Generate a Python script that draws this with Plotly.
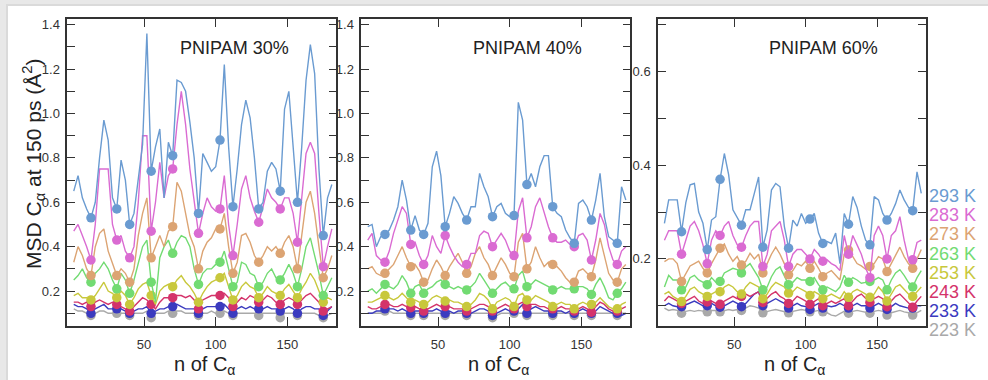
import plotly.graph_objects as go

# Residue grid (every third C-alpha) and the residues highlighted with dots
RESIDUES = list(range(1, 182, 3))
MARKED = [13, 31, 40, 55, 70, 88, 103, 112, 130, 145, 157, 175]

TEMPS = ["293 K", "283 K", "273 K", "263 K", "253 K", "243 K", "233 K", "223 K"]
COLORS = ["#6A9BD1", "#DA6BD2", "#DCA473", "#72DB72", "#C8C83C", "#D4336A", "#3B3BBF", "#A9A9A9"]
PANEL_TITLES = ["PNIPAM 30%", "PNIPAM 40%", "PNIPAM 60%"]

# ---- PNIPAM 30% ----
p30_293 = [0.65, 0.72, 0.62, 0.57, 0.53, 0.60, 0.80, 0.97, 0.88, 0.62,
           0.57, 0.79, 0.70, 0.50, 0.55, 0.70, 0.86, 1.36, 0.74, 0.85,
           0.93, 0.62, 0.87, 0.81, 1.15, 1.14, 1.10, 0.96, 0.80, 0.55,
           0.82, 0.78, 0.74, 0.76, 0.88, 1.22, 0.85, 0.58, 0.75, 0.95,
           1.06, 0.98, 0.80, 0.57, 0.60, 0.74, 0.78, 0.75, 0.65, 1.02,
           1.10, 0.85, 0.60, 0.85, 1.15, 1.31, 1.18, 0.75, 0.45, 0.62,
           0.68]
p30_283 = [0.47, 0.50, 0.45, 0.40, 0.34, 0.50, 0.75, 0.75, 0.75, 0.50,
           0.43, 0.45, 0.38, 0.35, 0.40, 0.60, 0.90, 0.90, 0.47, 0.60,
           0.78, 0.62, 0.72, 0.75, 0.95, 1.10, 0.95, 0.75, 0.60, 0.46,
           0.55, 0.62, 0.58, 0.56, 0.57, 0.72, 0.50, 0.36, 0.50, 0.66,
           0.72, 0.62, 0.56, 0.51, 0.58, 0.66, 0.62, 0.60, 0.57, 0.62,
           0.62, 0.55, 0.42, 0.62, 0.82, 0.87, 0.82, 0.55, 0.31, 0.40,
           0.48]
p30_273 = [0.33, 0.40, 0.36, 0.30, 0.27, 0.40, 0.46, 0.48, 0.38, 0.32,
           0.27, 0.30, 0.28, 0.24, 0.30, 0.45, 0.55, 0.62, 0.35, 0.40,
           0.45, 0.40, 0.47, 0.49, 0.69, 0.65, 0.55, 0.45, 0.40, 0.30,
           0.38, 0.42, 0.44, 0.48, 0.48, 0.55, 0.40, 0.28, 0.33, 0.45,
           0.46, 0.42, 0.36, 0.33, 0.36, 0.40, 0.38, 0.40, 0.37, 0.42,
           0.45, 0.40, 0.30, 0.45, 0.60, 0.65, 0.55, 0.40, 0.26, 0.30,
           0.36]
p30_263 = [0.25, 0.27, 0.30, 0.26, 0.24, 0.28, 0.30, 0.33, 0.30, 0.25,
           0.21, 0.28, 0.25, 0.19, 0.25, 0.32, 0.40, 0.43, 0.24, 0.15,
           0.35, 0.40, 0.43, 0.37, 0.42, 0.45, 0.44, 0.40, 0.30, 0.23,
           0.28, 0.30, 0.30, 0.32, 0.33, 0.38, 0.30, 0.22, 0.24, 0.33,
           0.32, 0.28, 0.27, 0.22, 0.24, 0.28, 0.30, 0.26, 0.25, 0.28,
           0.32, 0.28, 0.22, 0.30, 0.40, 0.44, 0.36, 0.28, 0.18, 0.22,
           0.26]
p30_253 = [0.18, 0.19, 0.17, 0.17, 0.16, 0.18, 0.21, 0.24, 0.20, 0.19,
           0.17, 0.20, 0.18, 0.14, 0.17, 0.21, 0.23, 0.24, 0.18, 0.14,
           0.20, 0.22, 0.23, 0.22, 0.25, 0.27, 0.24, 0.22, 0.19, 0.15,
           0.19, 0.22, 0.24, 0.25, 0.26, 0.28, 0.22, 0.16, 0.18, 0.22,
           0.24, 0.22, 0.21, 0.17, 0.19, 0.22, 0.20, 0.19, 0.18, 0.21,
           0.23, 0.20, 0.17, 0.21, 0.24, 0.28, 0.25, 0.20, 0.15, 0.17,
           0.16]
p30_243 = [0.15, 0.15, 0.14, 0.15, 0.13, 0.15, 0.16, 0.15, 0.14, 0.15,
           0.14, 0.13, 0.12, 0.11, 0.13, 0.15, 0.17, 0.16, 0.14, 0.12,
           0.15, 0.17, 0.17, 0.17, 0.18, 0.18, 0.17, 0.18, 0.16, 0.12,
           0.16, 0.17, 0.18, 0.18, 0.18, 0.19, 0.17, 0.13, 0.15, 0.17,
           0.16, 0.18, 0.17, 0.15, 0.16, 0.18, 0.17, 0.15, 0.14, 0.16,
           0.17, 0.16, 0.14, 0.16, 0.18, 0.19, 0.17, 0.15, 0.11, 0.12,
           0.13]
p30_233 = [0.14, 0.13, 0.13, 0.12, 0.10, 0.12, 0.13, 0.14, 0.12, 0.12,
           0.12, 0.12, 0.11, 0.10, 0.11, 0.12, 0.12, 0.13, 0.10, 0.11,
           0.12, 0.12, 0.13, 0.13, 0.14, 0.13, 0.12, 0.12, 0.12, 0.10,
           0.12, 0.13, 0.13, 0.13, 0.13, 0.14, 0.12, 0.10, 0.12, 0.13,
           0.12, 0.13, 0.12, 0.12, 0.12, 0.13, 0.12, 0.12, 0.11, 0.12,
           0.13, 0.12, 0.10, 0.12, 0.13, 0.13, 0.12, 0.12, 0.09, 0.11,
           0.13]
p30_223 = [0.12, 0.11, 0.11, 0.10, 0.09, 0.10, 0.11, 0.11, 0.10, 0.10,
           0.10, 0.10, 0.10, 0.09, 0.10, 0.10, 0.10, 0.11, 0.08, 0.10,
           0.10, 0.10, 0.11, 0.10, 0.11, 0.11, 0.10, 0.10, 0.10, 0.09,
           0.10, 0.10, 0.11, 0.10, 0.10, 0.11, 0.10, 0.09, 0.10, 0.10,
           0.10, 0.10, 0.10, 0.09, 0.10, 0.10, 0.10, 0.10, 0.08, 0.10,
           0.10, 0.10, 0.09, 0.10, 0.10, 0.10, 0.10, 0.09, 0.08, 0.09,
           0.10]

# ---- PNIPAM 40% ----
p40_293 = [0.49, 0.50, 0.40, 0.445, 0.455, 0.475, 0.52, 0.58, 0.70, 0.61,
           0.475, 0.54, 0.475, 0.455, 0.505, 0.76, 0.83, 0.72, 0.49, 0.55,
           0.625, 0.595, 0.55, 0.52, 0.58, 0.58, 0.73, 0.67, 0.625, 0.535,
           0.58, 0.595, 0.55, 0.535, 0.54, 1.05, 0.97, 0.68, 0.73, 0.67,
           0.76, 0.81, 0.81, 0.58, 0.55, 0.535, 0.475, 0.44, 0.415, 0.595,
           0.61, 0.58, 0.52, 0.61, 0.73, 0.535, 0.445, 0.43, 0.415, 0.67,
           0.61]
p40_283 = [0.43, 0.46, 0.36, 0.34, 0.33, 0.38, 0.46, 0.52, 0.58, 0.55,
           0.41, 0.42, 0.36, 0.32, 0.36, 0.45, 0.40, 0.37, 0.45, 0.40,
           0.36, 0.33, 0.31, 0.32, 0.37, 0.37, 0.45, 0.47, 0.46, 0.40,
           0.43, 0.46, 0.43, 0.38, 0.36, 0.56, 0.62, 0.44, 0.49, 0.58,
           0.62, 0.55, 0.49, 0.44, 0.42, 0.42, 0.43, 0.41, 0.40, 0.45,
           0.46, 0.43, 0.34, 0.43, 0.55, 0.50, 0.40, 0.34, 0.32, 0.38,
           0.40]
p40_273 = [0.30, 0.31, 0.28, 0.27, 0.28, 0.30, 0.32, 0.36, 0.40, 0.35,
           0.31, 0.32, 0.29, 0.24, 0.25, 0.30, 0.34, 0.31, 0.27, 0.31,
           0.34, 0.37, 0.33, 0.28, 0.31, 0.37, 0.40, 0.35, 0.32, 0.27,
           0.31, 0.35, 0.32, 0.28, 0.265, 0.42, 0.46, 0.30, 0.33, 0.40,
           0.35, 0.31, 0.33, 0.32, 0.31, 0.29, 0.26, 0.24, 0.24, 0.29,
           0.30, 0.28, 0.265, 0.34, 0.44, 0.36, 0.28, 0.25, 0.24, 0.30,
           0.32]
p40_263 = [0.20, 0.21, 0.19, 0.21, 0.23, 0.22, 0.21, 0.23, 0.27, 0.24,
           0.19, 0.22, 0.23, 0.19, 0.21, 0.22, 0.24, 0.25, 0.23, 0.22,
           0.21, 0.22, 0.21, 0.205, 0.22, 0.24, 0.28, 0.25, 0.22, 0.19,
           0.21, 0.23, 0.24, 0.22, 0.21, 0.27, 0.29, 0.22, 0.23, 0.25,
           0.24, 0.23, 0.22, 0.205, 0.21, 0.22, 0.21, 0.21, 0.21, 0.22,
           0.22, 0.21, 0.185, 0.23, 0.26, 0.22, 0.17, 0.16, 0.19, 0.21,
           0.24]
p40_253 = [0.15, 0.15, 0.16, 0.17, 0.18, 0.17, 0.16, 0.17, 0.19, 0.17,
           0.15, 0.16, 0.15, 0.14, 0.15, 0.17, 0.18, 0.17, 0.155, 0.16,
           0.15, 0.15, 0.14, 0.13, 0.14, 0.16, 0.19, 0.18, 0.16, 0.12,
           0.15, 0.16, 0.17, 0.16, 0.13, 0.18, 0.19, 0.16, 0.16, 0.18,
           0.17, 0.16, 0.15, 0.13, 0.14, 0.15, 0.14, 0.14, 0.12, 0.14,
           0.15, 0.14, 0.14, 0.15, 0.17, 0.15, 0.13, 0.12, 0.12, 0.14,
           0.15]
p40_243 = [0.13, 0.12, 0.12, 0.13, 0.14, 0.14, 0.13, 0.13, 0.14, 0.13,
           0.125, 0.13, 0.12, 0.11, 0.12, 0.13, 0.14, 0.13, 0.13, 0.13,
           0.12, 0.12, 0.12, 0.11, 0.12, 0.13, 0.14, 0.14, 0.13, 0.11,
           0.12, 0.13, 0.14, 0.13, 0.12, 0.14, 0.15, 0.13, 0.14, 0.14,
           0.13, 0.13, 0.12, 0.12, 0.12, 0.13, 0.12, 0.12, 0.11, 0.12,
           0.13, 0.12, 0.105, 0.13, 0.15, 0.14, 0.12, 0.11, 0.11, 0.12,
           0.13]
p40_233 = [0.10, 0.10, 0.11, 0.11, 0.12, 0.12, 0.12, 0.11, 0.12, 0.11,
           0.10, 0.11, 0.11, 0.10, 0.11, 0.11, 0.12, 0.11, 0.10, 0.11,
           0.10, 0.11, 0.11, 0.10, 0.10, 0.11, 0.12, 0.12, 0.11, 0.09,
           0.10, 0.11, 0.12, 0.11, 0.11, 0.12, 0.14, 0.10, 0.12, 0.13,
           0.12, 0.11, 0.11, 0.10, 0.11, 0.11, 0.10, 0.11, 0.10, 0.11,
           0.12, 0.11, 0.10, 0.11, 0.13, 0.12, 0.11, 0.10, 0.10, 0.09,
           0.10]
p40_223 = [0.10, 0.10, 0.10, 0.10, 0.11, 0.11, 0.10, 0.10, 0.10, 0.10,
           0.09, 0.10, 0.10, 0.09, 0.10, 0.10, 0.10, 0.10, 0.09, 0.10,
           0.10, 0.10, 0.10, 0.09, 0.10, 0.10, 0.10, 0.10, 0.10, 0.08,
           0.09, 0.10, 0.10, 0.10, 0.10, 0.10, 0.10, 0.09, 0.10, 0.10,
           0.10, 0.10, 0.10, 0.09, 0.10, 0.10, 0.10, 0.10, 0.09, 0.10,
           0.10, 0.10, 0.09, 0.10, 0.10, 0.10, 0.10, 0.10, 0.09, 0.10,
           0.10]

# ---- PNIPAM 60% ----
p60_293 = [0.276, 0.326, 0.326, 0.326, 0.258, 0.32, 0.358, 0.361, 0.30, 0.276,
           0.22, 0.283, 0.29, 0.37, 0.425, 0.38, 0.305, 0.29, 0.272, 0.305,
           0.305, 0.34, 0.375, 0.225, 0.262, 0.347, 0.361, 0.354, 0.27, 0.223,
           0.283, 0.27, 0.297, 0.276, 0.285, 0.297, 0.255, 0.233, 0.237, 0.233,
           0.255, 0.19, 0.297, 0.274, 0.333, 0.31, 0.27, 0.24, 0.23, 0.333,
           0.326, 0.297, 0.283, 0.297, 0.318, 0.347, 0.326, 0.31, 0.303, 0.386,
           0.34]
p60_283 = [0.24, 0.26, 0.26, 0.26, 0.21, 0.24, 0.27, 0.28, 0.26, 0.23,
           0.19, 0.24, 0.26, 0.25, 0.27, 0.28, 0.25, 0.23, 0.225, 0.25,
           0.27, 0.28, 0.28, 0.184, 0.21, 0.26, 0.27, 0.28, 0.24, 0.184,
           0.21, 0.22, 0.22, 0.21, 0.20, 0.22, 0.21, 0.195, 0.198, 0.19,
           0.185, 0.175, 0.25, 0.21, 0.25, 0.23, 0.21, 0.18, 0.16, 0.25,
           0.27, 0.25, 0.20, 0.25, 0.26, 0.29, 0.24, 0.20, 0.198, 0.235,
           0.24]
p60_273 = [0.194, 0.20, 0.20, 0.19, 0.152, 0.17, 0.185, 0.19, 0.195, 0.18,
           0.17, 0.19, 0.205, 0.223, 0.232, 0.21, 0.195, 0.205, 0.187, 0.195,
           0.212, 0.20, 0.21, 0.17, 0.19, 0.21, 0.225, 0.21, 0.19, 0.166,
           0.175, 0.19, 0.185, 0.195, 0.18, 0.195, 0.18, 0.162, 0.17, 0.175,
           0.165, 0.155, 0.21, 0.219, 0.205, 0.19, 0.185, 0.178, 0.184, 0.19,
           0.205, 0.20, 0.173, 0.19, 0.21, 0.225, 0.205, 0.19, 0.18, 0.20,
           0.22]
p60_263 = [0.14, 0.165, 0.155, 0.155, 0.134, 0.14, 0.16, 0.165, 0.155, 0.15,
           0.145, 0.16, 0.15, 0.152, 0.17, 0.175, 0.18, 0.177, 0.17, 0.183,
           0.19, 0.175, 0.16, 0.134, 0.14, 0.162, 0.177, 0.183, 0.165, 0.145,
           0.15, 0.16, 0.155, 0.155, 0.152, 0.16, 0.145, 0.134, 0.14, 0.135,
           0.13, 0.14, 0.165, 0.15, 0.16, 0.155, 0.148, 0.15, 0.152, 0.155,
           0.16, 0.155, 0.134, 0.155, 0.17, 0.177, 0.165, 0.15, 0.14, 0.16,
           0.175]
p60_253 = [0.125, 0.13, 0.12, 0.115, 0.109, 0.12, 0.135, 0.14, 0.13, 0.125,
           0.12, 0.125, 0.13, 0.13, 0.14, 0.145, 0.14, 0.13, 0.125, 0.14,
           0.15, 0.145, 0.14, 0.115, 0.125, 0.14, 0.15, 0.145, 0.14, 0.127,
           0.13, 0.14, 0.135, 0.13, 0.122, 0.13, 0.125, 0.115, 0.12, 0.125,
           0.12, 0.115, 0.13, 0.118, 0.13, 0.135, 0.13, 0.125, 0.118, 0.125,
           0.14, 0.13, 0.11, 0.125, 0.14, 0.145, 0.135, 0.125, 0.12, 0.13,
           0.14]
p60_243 = [0.11, 0.12, 0.115, 0.11, 0.105, 0.11, 0.115, 0.12, 0.11, 0.105,
           0.108, 0.11, 0.105, 0.103, 0.11, 0.115, 0.12, 0.115, 0.12, 0.125,
           0.12, 0.125, 0.13, 0.107, 0.115, 0.125, 0.13, 0.12, 0.115, 0.105,
           0.11, 0.12, 0.115, 0.11, 0.103, 0.11, 0.115, 0.10, 0.105, 0.11,
           0.105, 0.11, 0.115, 0.10, 0.11, 0.12, 0.125, 0.115, 0.107, 0.115,
           0.12, 0.115, 0.098, 0.11, 0.12, 0.125, 0.115, 0.105, 0.097, 0.11,
           0.12]
p60_233 = [0.10, 0.105, 0.10, 0.098, 0.098, 0.102, 0.105, 0.11, 0.105, 0.10,
           0.10, 0.105, 0.10, 0.097, 0.10, 0.105, 0.11, 0.105, 0.098, 0.105,
           0.115, 0.125, 0.13, 0.10, 0.105, 0.11, 0.115, 0.11, 0.105, 0.095,
           0.10, 0.105, 0.10, 0.098, 0.092, 0.10, 0.105, 0.095, 0.10, 0.098,
           0.10, 0.105, 0.10, 0.095, 0.10, 0.105, 0.10, 0.10, 0.095, 0.10,
           0.105, 0.10, 0.092, 0.098, 0.105, 0.10, 0.098, 0.095, 0.095, 0.10,
           0.10]
p60_223 = [0.095, 0.09, 0.092, 0.09, 0.084, 0.088, 0.09, 0.088, 0.09, 0.088,
           0.087, 0.09, 0.09, 0.087, 0.09, 0.092, 0.09, 0.092, 0.09, 0.095,
           0.10, 0.098, 0.095, 0.085, 0.088, 0.09, 0.092, 0.09, 0.088, 0.085,
           0.088, 0.09, 0.092, 0.09, 0.087, 0.088, 0.09, 0.087, 0.085, 0.08,
           0.078, 0.083, 0.088, 0.084, 0.088, 0.09, 0.088, 0.087, 0.084, 0.088,
           0.09, 0.088, 0.08, 0.085, 0.088, 0.09, 0.087, 0.085, 0.08, 0.085,
           0.09]

PANELS = [
    [p30_293, p30_283, p30_273, p30_263, p30_253, p30_243, p30_233, p30_223],
    [p40_293, p40_283, p40_273, p40_263, p40_253, p40_243, p40_233, p40_223],
    [p60_293, p60_283, p60_273, p60_263, p60_253, p60_243, p60_233, p60_223],
]
Y_RANGES = [[0.044, 1.427], [0.044, 1.427], [0.0574, 0.7128]]

# ---- page geometry (pixels) ----
W, H = 988, 380


def fx(px):
    return px / W


def fy(py):
    return 1 - py / H


X_DOMAINS = [[fx(67.3), fx(336.3)], [fx(361.3), fx(630.3)], [fx(658.0), fx(925.7)]]
Y_DOMAIN = [fy(325.7), fy(18.7)]
FONT = "Liberation Sans, Arial, Helvetica, sans-serif"
INK = "#333333"

fig = go.Figure()
marker_idx = [RESIDUES.index(r) for r in MARKED]

for p, series_list in enumerate(PANELS):
    xa = "x" if p == 0 else f"x{p + 1}"
    ya = "y" if p == 0 else f"y{p + 1}"
    # coldest first so the warmer curves sit on top
    for i in reversed(range(len(TEMPS))):
        vals = series_list[i]
        fig.add_trace(go.Scatter(
            x=RESIDUES, y=vals, mode="lines", xaxis=xa, yaxis=ya,
            line=dict(color=COLORS[i], width=1.4), showlegend=False,
            hoverinfo="skip"))
        fig.add_trace(go.Scatter(
            x=[RESIDUES[k] for k in marker_idx], y=[vals[k] for k in marker_idx],
            mode="markers", xaxis=xa, yaxis=ya,
            marker=dict(color=COLORS[i], size=9.5, line=dict(width=0)),
            showlegend=False, hoverinfo="skip"))

layout = dict(
    width=W, height=H,
    margin=dict(l=0, r=0, t=0, b=0),
    paper_bgcolor="#e8e8e8",
    plot_bgcolor="white",
    font=dict(family=FONT, color=INK),
    showlegend=False,
)

for p in range(3):
    sx = "" if p == 0 else str(p + 1)
    layout["xaxis" + sx] = dict(
        domain=X_DOMAINS[p], anchor="y" + sx, range=[-3.5, 184.1],
        tickvals=[50, 100, 150], ticks="inside", ticklen=9, tickwidth=1.2,
        tickcolor=INK, showline=True, linecolor=INK, linewidth=1.5,
        mirror="ticks", showgrid=False, zeroline=False, automargin=False,
        tickfont=dict(family=FONT, size=13, color=INK), ticklabelstandoff=6,
    )
    layout["yaxis" + sx] = dict(
        domain=Y_DOMAIN, anchor="x" + sx, range=Y_RANGES[p],
        tick0=0, dtick=0.2, tickformat=".1f", ticks="inside", ticklen=8,
        tickwidth=1.2, tickcolor=INK, showline=True, linecolor=INK,
        linewidth=1.5, mirror="ticks", showgrid=False, zeroline=False,
        automargin=False, tickfont=dict(family=FONT, size=13, color=INK),
        ticklabelstandoff=3,
        minor=dict(dtick=0.1, tick0=0, ticks="inside", ticklen=8,
                   tickwidth=1.2, tickcolor=INK, showgrid=False),
    )

annotations = []
for p, cx in enumerate([234, 527, 823.5]):
    annotations.append(dict(
        text=PANEL_TITLES[p], x=fx(cx), y=fy(48), xref="paper", yref="paper",
        showarrow=False, xanchor="center", yanchor="middle",
        font=dict(family=FONT, size=18, color="#222222")))
for cx in [204, 498, 794]:
    annotations.append(dict(
        text="n of C<sub>α</sub>", x=fx(cx), y=fy(365), xref="paper", yref="paper",
        showarrow=False, xanchor="center", yanchor="middle",
        font=dict(family=FONT, size=20, color="#222222")))
annotations.append(dict(
    text="MSD C<sub>α</sub> at 150 ps (Å<sup>2</sup>)", textangle=-90,
    x=fx(33), y=fy(164), xref="paper", yref="paper", showarrow=False,
    xanchor="center", yanchor="middle",
    font=dict(family=FONT, size=21, color="#222222")))
for i, t in enumerate(TEMPS):
    annotations.append(dict(
        text=t, x=fx(927), y=fy(196 + 19.2 * i), xref="paper", yref="paper",
        showarrow=False, xanchor="left", yanchor="middle",
        font=dict(family=FONT, size=18, color=COLORS[i])))
layout["annotations"] = annotations

# white card on a light grey page, with a faint shadow along its edge
layout["shapes"] = [
    dict(type="rect", xref="paper", yref="paper", x0=fx(6), x1=1.0, y0=0, y1=fy(4),
         fillcolor="#dadada", line=dict(width=0), layer="below"),
    dict(type="rect", xref="paper", yref="paper", x0=fx(8), x1=1.0, y0=0, y1=fy(6),
         fillcolor="white", line=dict(width=0), layer="below"),
]

fig.update_layout(**layout)
fig.write_html("out.html")
